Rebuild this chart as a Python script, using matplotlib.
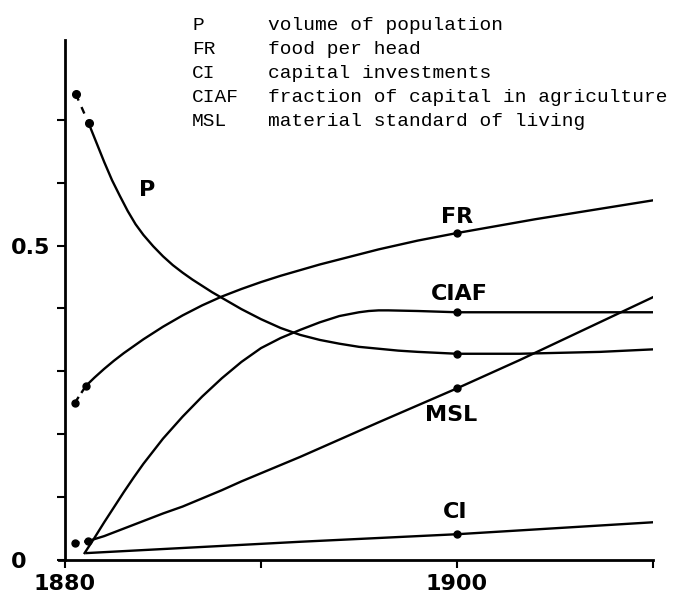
import matplotlib
matplotlib.use("Agg")
import matplotlib.pyplot as plt

# values (year, fraction)
p_years = [1881.2, 1881.6, 1882.0, 1882.4, 1882.8, 1883.2, 1883.6, 1884.0, 1884.5, 1885.0,
           1885.5, 1886.0, 1886.5, 1887.0, 1887.5, 1888.0, 1889.0, 1890.0, 1891.0, 1892.0,
           1893.0, 1894.0, 1895.0, 1896.0, 1897.0, 1898.0, 1900.0, 1903.2, 1907.3, 1910.0]
p_vals = [0.695, 0.664, 0.633, 0.604, 0.579, 0.555, 0.534, 0.517, 0.499, 0.483,
          0.469, 0.457, 0.446, 0.436, 0.426, 0.417, 0.399, 0.383, 0.369, 0.358,
          0.350, 0.344, 0.339, 0.336, 0.333, 0.331, 0.328, 0.328, 0.331, 0.335]
p_start_years = [1880.55, 1881.2]
p_start_vals = [0.741, 0.695]

fr_years = [1881.07, 1881.5, 1882.0, 1882.5, 1883.0, 1883.5, 1884.0, 1885.0, 1886.0, 1887.0,
            1888.0, 1889.0, 1890.0, 1891.0, 1892.0, 1893.0, 1894.0, 1895.0, 1896.0, 1897.0,
            1898.0, 1899.0, 1900.0, 1902.0, 1904.0, 1906.0, 1908.0, 1910.0]
fr_vals = [0.277, 0.290, 0.304, 0.317, 0.329, 0.340, 0.351, 0.371, 0.389, 0.405,
           0.419, 0.431, 0.442, 0.452, 0.461, 0.470, 0.478, 0.486, 0.494, 0.501,
           0.508, 0.514, 0.520, 0.531, 0.542, 0.552, 0.562, 0.572]
fr_start_years = [1880.5, 1881.07]
fr_start_vals = [0.250, 0.277]

ciaf_years = [1881.0, 1881.5, 1882.0, 1882.5, 1883.0, 1883.5, 1884.0, 1885.0, 1886.0, 1887.0,
              1888.0, 1889.0, 1890.0, 1891.0, 1892.0, 1893.0, 1894.0, 1895.0, 1895.5, 1896.0,
              1896.5, 1898.0, 1900.0, 1910.0]
ciaf_vals = [0.011, 0.035, 0.060, 0.084, 0.108, 0.131, 0.153, 0.193, 0.228, 0.260,
             0.289, 0.315, 0.337, 0.353, 0.366, 0.378, 0.388, 0.394, 0.396, 0.397,
             0.397, 0.396, 0.394, 0.394]

msl_years = [1881.17, 1882.0, 1883.0, 1884.0, 1885.0, 1886.0, 1887.0, 1888.0, 1889.0, 1890.0,
             1891.0, 1892.0, 1896.0, 1900.0, 1903.2, 1910.0]
msl_vals = [0.030, 0.038, 0.050, 0.062, 0.074, 0.085, 0.098, 0.111, 0.125, 0.138,
            0.151, 0.164, 0.219, 0.273, 0.318, 0.418]
msl_start_years = [1880.5, 1881.17]
msl_start_vals = [0.027, 0.030]

ci_years = [1881.1, 1892.0, 1900.0, 1910.0]
ci_vals = [0.011, 0.029, 0.041, 0.060]

# dots at 1900
dot_vals = [0.520, 0.394, 0.328, 0.273, 0.041]

labels = ["P", "FR", "CIAF", "MSL", "CI"]
label_years = [1884.2, 1900.0, 1900.1, 1899.7, 1899.9]
label_vals = [0.588, 0.545, 0.423, 0.231, 0.076]

legend_abbr = ["P", "FR", "CI", "CIAF", "MSL"]
legend_text = ["volume of population", "food per head", "capital investments",
               "fraction of capital in agriculture", "material standard of living"]

W, H = 691, 598
fig = plt.figure(figsize=(W / 100, H / 100), dpi=100)
ax = fig.add_axes([65 / W, (H - 560) / H, (653 - 65) / W, (560 - 40) / H])

lw = 1.7
for xs, ys in [(p_years, p_vals), (fr_years, fr_vals), (ciaf_years, ciaf_vals),
               (msl_years, msl_vals), (ci_years, ci_vals)]:
    ax.plot(xs, ys, color="black", lw=lw, solid_joinstyle="round")

# dashed starts with dots
ax.plot(p_start_years, p_start_vals, color="black", lw=lw, ls=(0, (3, 3)),
        marker="o", ms=5.5)
ax.plot(fr_start_years, fr_start_vals, color="black", lw=lw, ls=(0, (3, 2)),
        marker="o", ms=5)
ax.plot(msl_start_years, msl_start_vals, color="black", lw=lw, ls=(0, (2, 2)),
        marker="o", ms=5)

ax.plot([1900] * len(dot_vals), dot_vals, "o", color="black", ms=5)

for lab, x, y in zip(labels, label_years, label_vals):
    ax.text(x, y, lab, ha="center", va="center", fontsize=16, fontweight="bold")

ax.set_xlim(1880, 1910)
ax.set_ylim(0, 0.827)
ax.set_xticks([1880, 1890, 1900, 1910])
ax.set_xticklabels(["1880", "", "1900", ""])
ax.set_yticks([0, 0.1, 0.2, 0.3, 0.4, 0.5, 0.6, 0.7])
ax.set_yticklabels(["0", "", "", "", "", "0.5", "", ""])
ax.tick_params(axis="both", direction="out", length=6, width=1.5, labelsize=16)
ax.tick_params(axis="x", pad=4)
ax.tick_params(axis="y", pad=33)
for t in ax.get_xticklabels():
    t.set_fontweight("bold")
for t in ax.get_yticklabels():
    t.set_fontweight("bold")
    t.set_horizontalalignment("left")

for s in ["top", "right"]:
    ax.spines[s].set_visible(False)
ax.spines["left"].set_linewidth(2)
ax.spines["bottom"].set_linewidth(2)
ax.spines["bottom"].set_bounds(1879.7, 1910)

row_y = [25, 49, 73, 97, 121]
for a, t, y in zip(legend_abbr, legend_text, row_y):
    fig.text(192 / W, 1 - y / H, a, family="Liberation Mono", fontsize=14, va="center")
    fig.text(268 / W, 1 - y / H, t, family="Liberation Mono", fontsize=14, va="center")

fig.savefig("out.png", dpi=100)
